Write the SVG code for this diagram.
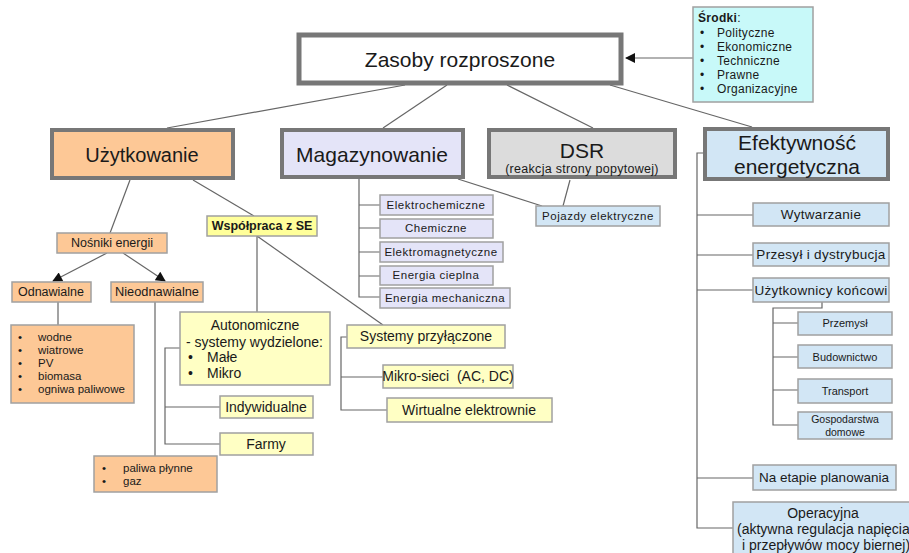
<svg xmlns="http://www.w3.org/2000/svg" width="909" height="553" viewBox="0 0 909 553">
<defs>
<style>
text{font-family:"Liberation Sans",Arial,sans-serif;fill:#1a1a1a}
.c{stroke:#666;stroke-width:1.2;fill:none}
.big{stroke:#777;stroke-width:5}
.l2{stroke:#777;stroke-width:4}
.sm{stroke:#a0a0a0;stroke-width:1.5}
.peach{fill:#fdc896}
.lav{fill:#e4e4f8}
.blue{fill:#d2e6f5}
.yel{fill:#ffffc4}
.mid{text-anchor:middle}
.ls{letter-spacing:0.5px}
.ls3{letter-spacing:0.3px}
</style>
<marker id="ah" viewBox="0 0 10 10" refX="9" refY="5" markerWidth="12" markerHeight="10" markerUnits="userSpaceOnUse" orient="auto">
<path d="M0,0 L10,5 L0,10 z" fill="#111"/>
</marker>
</defs>
<rect width="909" height="553" fill="#fff"/>

<g id="connectors">
<line class="c" x1="693" y1="58" x2="626" y2="58" marker-end="url(#ah)"/>
<line class="c" x1="405" y1="85" x2="167" y2="128"/>
<line class="c" x1="447" y1="85" x2="383" y2="128"/>
<line class="c" x1="507" y1="85" x2="593" y2="128"/>
<line class="c" x1="610" y1="85" x2="752" y2="127"/>
<line class="c" x1="130" y1="180" x2="110" y2="233"/>
<line class="c" x1="193" y1="180" x2="254" y2="216"/>
<line class="c" x1="257" y1="236" x2="383" y2="325"/>
<line class="c" x1="257" y1="236" x2="257" y2="312"/>
<line class="c" x1="107" y1="253" x2="53" y2="281" marker-end="url(#ah)"/>
<line class="c" x1="123" y1="253" x2="165" y2="281" marker-end="url(#ah)"/>
<line class="c" x1="58" y1="302" x2="58" y2="325"/>
<line class="c" x1="155" y1="302" x2="155" y2="456"/>
<path class="c" d="M180,348 H165 V444 H220 M165,407 H220"/>
<path class="c" d="M347,337 H341 V410 H387 M341,377 H383"/>
<path class="c" d="M359,178 V297 H380 M359,205 H380 M359,228 H380 M359,252 H380 M359,276 H380"/>
<line class="c" x1="458" y1="179" x2="542" y2="206"/>
<line class="c" x1="570" y1="180" x2="563" y2="206"/>
<path class="c" d="M703,153 H697 V528 H733 M697,215 H753 M697,255 H753 M697,290 H753 M697,478 H753"/>
<path class="c" d="M822,302 V308 H773 V425 H798 M773,323 H798 M773,357 H798 M773,390 H798"/>
</g>

<g id="zasoby">
<rect class="big" x="299" y="35" width="322" height="48" fill="#fff"/>
<text class="mid" x="460" y="67" font-size="21">Zasoby rozproszone</text>
</g>

<g id="srodki">
<rect x="693" y="7" width="120" height="95" fill="#c8f9f9" stroke="#a0a0a0" stroke-width="1.5"/>
<text x="698" y="22" font-size="12" class="ls3"><tspan font-weight="bold">Środki</tspan>:</text>
<g font-size="12" class="ls3">
<text x="700" y="37">•</text><text x="717" y="37">Polityczne</text>
<text x="700" y="51">•</text><text x="717" y="51">Ekonomiczne</text>
<text x="700" y="65">•</text><text x="717" y="65">Techniczne</text>
<text x="700" y="79">•</text><text x="717" y="79">Prawne</text>
<text x="700" y="93">•</text><text x="717" y="93">Organizacyjne</text>
</g>
</g>

<g id="uzytkowanie">
<rect class="l2 peach" x="52" y="130" width="181" height="48"/>
<text class="mid" x="142" y="162" font-size="20">Użytkowanie</text>
</g>

<g id="magazynowanie">
<rect class="l2 lav" x="282" y="130" width="181" height="47"/>
<text class="mid" x="372" y="162" font-size="21">Magazynowanie</text>
</g>

<g id="dsr">
<rect class="l2" x="489" y="130" width="186" height="47" fill="#dcdcdc"/>
<text class="mid" x="582" y="158" font-size="21">DSR</text>
<text class="mid" x="582" y="173" font-size="12.5" letter-spacing="0.3">(reakcja strony popytowej)</text>
</g>

<g id="efektywnosc">
<rect class="l2 blue" x="705" y="129" width="183" height="50"/>
<text class="mid" x="797" y="150" font-size="21">Efektywność</text>
<text class="mid" x="797" y="174" font-size="21">energetyczna</text>
</g>

<g id="nosniki">
<rect class="sm peach" x="57" y="233" width="110" height="20"/>
<text class="mid" x="112" y="247" font-size="12.5">Nośniki energii</text>
</g>

<g id="odnawialne">
<rect class="sm peach" x="12" y="282" width="79" height="20"/>
<text class="mid" x="51" y="296" font-size="12.5">Odnawialne</text>
</g>

<g id="nieodnawialne">
<rect class="sm peach" x="111" y="282" width="92" height="20"/>
<text class="mid" x="157" y="296" font-size="12.8">Nieodnawialne</text>
</g>

<g id="oze-lista">
<rect class="sm peach" x="11" y="325" width="123" height="78"/>
<g font-size="11.5">
<text x="18" y="341">•</text><text x="38" y="341">wodne</text>
<text x="18" y="354">•</text><text x="38" y="354">wiatrowe</text>
<text x="18" y="367">•</text><text x="38" y="367">PV</text>
<text x="18" y="380">•</text><text x="38" y="380">biomasa</text>
<text x="18" y="393">•</text><text x="38" y="393">ogniwa paliwowe</text>
</g>
</g>

<g id="paliwa">
<rect class="sm peach" x="94" y="456" width="123" height="36"/>
<g font-size="11.5">
<text x="102" y="472">•</text><text x="123" y="472">paliwa płynne</text>
<text x="102" y="485">•</text><text x="123" y="485">gaz</text>
</g>
</g>

<g id="wspolpraca">
<rect class="sm" x="207" y="216" width="110" height="20" fill="#ffff9a"/>
<text class="mid" x="262" y="230" font-size="12.5" font-weight="bold">Współpraca z SE</text>
</g>

<g id="autonomiczne">
<rect class="sm yel" x="180" y="312" width="150" height="73"/>
<g font-size="14">
<text class="mid" x="255" y="330">Autonomiczne</text>
<text x="186" y="347">- systemy wydzielone:</text>
<text x="188" y="362">•</text><text x="207" y="362">Małe</text>
<text x="188" y="378">•</text><text x="207" y="378">Mikro</text>
</g>
</g>

<g id="indywidualne">
<rect class="sm yel" x="220" y="396" width="93" height="22"/>
<text class="mid" x="266" y="412" font-size="14">Indywidualne</text>
</g>

<g id="farmy">
<rect class="sm yel" x="220" y="433" width="93" height="22"/>
<text class="mid" x="266" y="449" font-size="14">Farmy</text>
</g>

<g id="przylaczone">
<rect class="sm yel" x="347" y="325" width="158" height="23"/>
<text class="mid" x="426" y="341" font-size="14">Systemy przyłączone</text>
</g>

<g id="mikrosieci">
<rect class="sm yel" x="383" y="365" width="130" height="23"/>
<text class="mid" x="448" y="381" font-size="14" xml:space="preserve">Mikro-sieci  (AC, DC)</text>
</g>

<g id="wirtualne">
<rect class="sm yel" x="387" y="398" width="165" height="24"/>
<text class="mid" x="469" y="415" font-size="14">Wirtualne elektrownie</text>
</g>

<g id="elektrochemiczne">
<rect class="sm lav" x="380" y="195" width="113" height="20"/>
<text class="mid ls" x="436" y="209" font-size="11.5">Elektrochemiczne</text>
</g>
<g id="chemiczne">
<rect class="sm lav" x="380" y="219" width="113" height="19"/>
<text class="mid ls" x="436" y="232" font-size="11.5">Chemiczne</text>
</g>
<g id="elektromagnetyczne">
<rect class="sm lav" x="380" y="242" width="123" height="20"/>
<text class="mid ls" x="441" y="256" font-size="11.5">Elektromagnetyczne</text>
</g>
<g id="cieplna">
<rect class="sm lav" x="380" y="266" width="113" height="19"/>
<text class="mid ls" x="436" y="279" font-size="11.5">Energia cieplna</text>
</g>
<g id="mechaniczna">
<rect class="sm lav" x="380" y="288" width="130" height="20"/>
<text class="mid ls" x="445" y="302" font-size="11.5">Energia mechaniczna</text>
</g>

<g id="pojazdy">
<rect class="sm blue" x="536" y="206" width="124" height="20"/>
<text class="mid ls" x="598" y="220" font-size="11.5">Pojazdy elektryczne</text>
</g>

<g id="wytwarzanie">
<rect class="sm blue" x="753" y="203" width="136" height="23"/>
<text class="mid ls3" x="821" y="219" font-size="13.5">Wytwarzanie</text>
</g>
<g id="przesyl">
<rect class="sm blue" x="753" y="243" width="136" height="23"/>
<text class="mid ls3" x="821" y="259" font-size="13.5">Przesył i dystrybucja</text>
</g>
<g id="uzytkownicy">
<rect class="sm blue" x="753" y="278" width="136" height="24"/>
<text class="mid ls3" x="821" y="295" font-size="13.5">Użytkownicy końcowi</text>
</g>
<g id="przemysl">
<rect class="sm blue" x="798" y="312" width="94" height="23"/>
<text class="mid" x="845" y="327" font-size="11">Przemysł</text>
</g>
<g id="budownictwo">
<rect class="sm blue" x="798" y="345" width="94" height="23"/>
<text class="mid" x="845" y="361" font-size="11">Budownictwo</text>
</g>
<g id="transport">
<rect class="sm blue" x="798" y="379" width="94" height="24"/>
<text class="mid" x="845" y="395" font-size="11">Transport</text>
</g>
<g id="gospodarstwa">
<rect class="sm blue" x="798" y="412" width="94" height="27"/>
<text class="mid" x="845" y="423" font-size="10.5">Gospodarstwa</text>
<text class="mid" x="845" y="436" font-size="10.5">domowe</text>
</g>
<g id="planowanie">
<rect class="sm blue" x="753" y="465" width="143" height="25"/>
<text class="mid" x="824" y="482" font-size="13.5">Na etapie planowania</text>
</g>
<g id="operacyjna">
<rect class="sm blue" x="733" y="502" width="200" height="60"/>
<text class="mid" x="823" y="518" font-size="14">Operacyjna</text>
<text x="737" y="534" font-size="14">(aktywna regulacja napięcia</text>
<text x="742" y="550" font-size="14">i przepływów mocy biernej)</text>
</g>
</svg>
